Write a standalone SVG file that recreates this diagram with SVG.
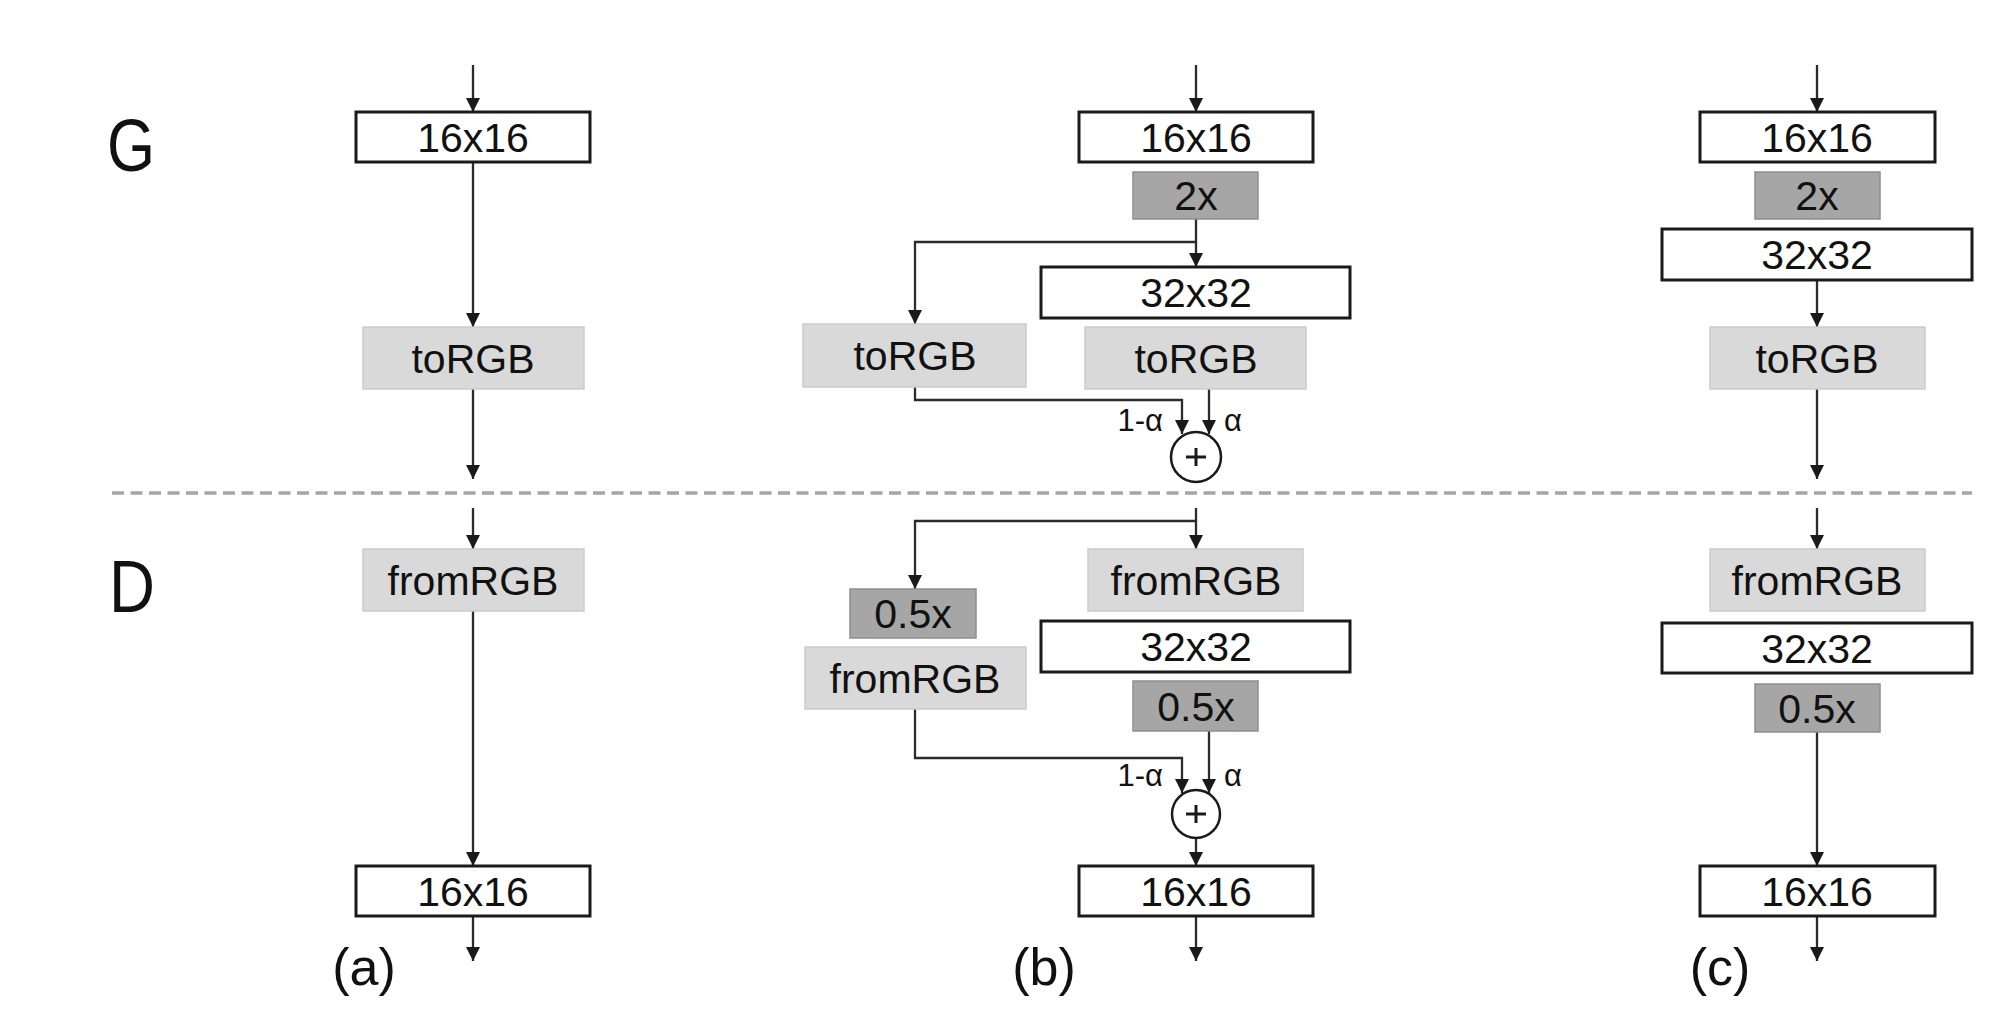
<svg xmlns="http://www.w3.org/2000/svg" width="2000" height="1029" viewBox="0 0 2000 1029">
<style>
.bg{fill:#ffffff}
.res{fill:#ffffff;stroke:#1a1a1a;stroke-width:3}
.rgb{fill:#d9d9d9;stroke:#cbcbcb;stroke-width:1.5}
.scl{fill:#a6a6a6;stroke:#8e8e8e;stroke-width:1.5}
.lbl{font-family:"Liberation Sans",Arial,sans-serif;font-size:41px;fill:#111;text-anchor:middle}
.big{font-family:"Liberation Sans",Arial,sans-serif;font-size:74px;fill:#111;text-anchor:middle}
.cap{font-family:"Liberation Sans",Arial,sans-serif;font-size:52px;fill:#111;text-anchor:middle}
.wt{font-family:"Liberation Sans",Arial,sans-serif;font-size:31px;fill:#111}
.ln{fill:none;stroke:#2b2b2b;stroke-width:2.3}
.sum{fill:#ffffff;stroke:#1a1a1a;stroke-width:2.5}
.plus{stroke:#1a1a1a;stroke-width:3}
</style>
<defs>
<marker id="ah" viewBox="0 0 14 14" refX="14" refY="7" markerWidth="14" markerHeight="14" markerUnits="userSpaceOnUse" orient="auto">
<path d="M0,0 L14,7 L0,14 z" fill="#1a1a1a"/>
</marker>
</defs>
<rect class="bg" x="0" y="0" width="2000" height="1029"/>

<g id="labels">
<text class="big" x="131" y="171" textLength="48" lengthAdjust="spacingAndGlyphs">G</text>
<text class="big" x="132" y="612" textLength="46" lengthAdjust="spacingAndGlyphs">D</text>
<text class="cap" x="364" y="985">(a)</text>
<text class="cap" x="1044" y="985">(b)</text>
<text class="cap" x="1720" y="985">(c)</text>
</g>

<g id="divider">
<line x1="112" y1="493" x2="1972" y2="493" stroke="#a6a6a6" stroke-width="3.5" stroke-dasharray="12 6.5"/>
</g>

<g id="connectors">
<!-- (a) -->
<path class="ln" d="M473,65 V112" marker-end="url(#ah)"/>
<path class="ln" d="M473,162 V327" marker-end="url(#ah)"/>
<path class="ln" d="M473,389 V479" marker-end="url(#ah)"/>
<path class="ln" d="M473,508 V549" marker-end="url(#ah)"/>
<path class="ln" d="M473,611 V866" marker-end="url(#ah)"/>
<path class="ln" d="M473,916 V961" marker-end="url(#ah)"/>
<!-- (b) G -->
<path class="ln" d="M1196,65 V112" marker-end="url(#ah)"/>
<path class="ln" d="M1196,219 V267" marker-end="url(#ah)"/>
<path class="ln" d="M1196,242 H915 V324" marker-end="url(#ah)"/>
<path class="ln" d="M915,387 V400 H1182 V434" marker-end="url(#ah)"/>
<path class="ln" d="M1209,389 V434" marker-end="url(#ah)"/>
<!-- (b) D -->
<path class="ln" d="M1196,508 V549" marker-end="url(#ah)"/>
<path class="ln" d="M1196,521 H915 V589" marker-end="url(#ah)"/>
<path class="ln" d="M915,709 V758 H1182 V793" marker-end="url(#ah)"/>
<path class="ln" d="M1209,731 V793" marker-end="url(#ah)"/>
<path class="ln" d="M1196,838 V866" marker-end="url(#ah)"/>
<path class="ln" d="M1196,916 V961" marker-end="url(#ah)"/>
<!-- (c) -->
<path class="ln" d="M1817,65 V112" marker-end="url(#ah)"/>
<path class="ln" d="M1817,280 V327" marker-end="url(#ah)"/>
<path class="ln" d="M1817,389 V479" marker-end="url(#ah)"/>
<path class="ln" d="M1817,508 V549" marker-end="url(#ah)"/>
<path class="ln" d="M1817,732 V866" marker-end="url(#ah)"/>
<path class="ln" d="M1817,916 V961" marker-end="url(#ah)"/>
</g>

<g id="weights">
<text class="wt" x="1163" y="431" text-anchor="end">1-α</text>
<text class="wt" x="1224" y="431">α</text>
<text class="wt" x="1163" y="786" text-anchor="end">1-α</text>
<text class="wt" x="1224" y="786">α</text>
</g>

<!-- column (a) -->
<g id="a-g-16"><rect class="res" x="356" y="112" width="234" height="50"/><text class="lbl" x="473" y="152">16x16</text></g>
<g id="a-g-torgb"><rect class="rgb" x="363" y="327" width="221" height="62"/><text class="lbl" x="473" y="373">toRGB</text></g>
<g id="a-d-fromrgb"><rect class="rgb" x="363" y="549" width="221" height="62"/><text class="lbl" x="473" y="595">fromRGB</text></g>
<g id="a-d-16"><rect class="res" x="356" y="866" width="234" height="50"/><text class="lbl" x="473" y="906">16x16</text></g>

<!-- column (b) -->
<g id="b-g-16"><rect class="res" x="1079" y="112" width="234" height="50"/><text class="lbl" x="1196" y="152">16x16</text></g>
<g id="b-g-2x"><rect class="scl" x="1133" y="172" width="125" height="47"/><text class="lbl" x="1196" y="210">2x</text></g>
<g id="b-g-32"><rect class="res" x="1041" y="267" width="309" height="51"/><text class="lbl" x="1196" y="307">32x32</text></g>
<g id="b-g-torgb-l"><rect class="rgb" x="803" y="324" width="223" height="63"/><text class="lbl" x="915" y="370">toRGB</text></g>
<g id="b-g-torgb-r"><rect class="rgb" x="1085" y="327" width="221" height="62"/><text class="lbl" x="1196" y="373">toRGB</text></g>
<g id="b-g-sum"><circle class="sum" cx="1196" cy="457" r="25"/><line class="plus" x1="1186" y1="457" x2="1206" y2="457"/><line class="plus" x1="1196" y1="448" x2="1196" y2="466"/></g>
<g id="b-d-fromrgb-r"><rect class="rgb" x="1088" y="549" width="215" height="62"/><text class="lbl" x="1196" y="595">fromRGB</text></g>
<g id="b-d-32"><rect class="res" x="1041" y="621" width="309" height="51"/><text class="lbl" x="1196" y="661">32x32</text></g>
<g id="b-d-half-r"><rect class="scl" x="1133" y="681" width="125" height="50"/><text class="lbl" x="1196" y="721">0.5x</text></g>
<g id="b-d-half-l"><rect class="scl" x="850" y="589" width="126" height="49"/><text class="lbl" x="913" y="628">0.5x</text></g>
<g id="b-d-fromrgb-l"><rect class="rgb" x="805" y="647" width="221" height="62"/><text class="lbl" x="915" y="693">fromRGB</text></g>
<g id="b-d-sum"><circle class="sum" cx="1196" cy="814" r="24"/><line class="plus" x1="1186" y1="814" x2="1206" y2="814"/><line class="plus" x1="1196" y1="805" x2="1196" y2="823"/></g>
<g id="b-d-16"><rect class="res" x="1079" y="866" width="234" height="50"/><text class="lbl" x="1196" y="906">16x16</text></g>

<!-- column (c) -->
<g id="c-g-16"><rect class="res" x="1700" y="112" width="235" height="50"/><text class="lbl" x="1817" y="152">16x16</text></g>
<g id="c-g-2x"><rect class="scl" x="1755" y="172" width="125" height="47"/><text class="lbl" x="1817" y="210">2x</text></g>
<g id="c-g-32"><rect class="res" x="1662" y="229" width="310" height="51"/><text class="lbl" x="1817" y="269">32x32</text></g>
<g id="c-g-torgb"><rect class="rgb" x="1710" y="327" width="215" height="62"/><text class="lbl" x="1817" y="373">toRGB</text></g>
<g id="c-d-fromrgb"><rect class="rgb" x="1710" y="549" width="215" height="62"/><text class="lbl" x="1817" y="595">fromRGB</text></g>
<g id="c-d-32"><rect class="res" x="1662" y="623" width="310" height="50"/><text class="lbl" x="1817" y="663">32x32</text></g>
<g id="c-d-half"><rect class="scl" x="1755" y="684" width="125" height="48"/><text class="lbl" x="1817" y="723">0.5x</text></g>
<g id="c-d-16"><rect class="res" x="1700" y="866" width="235" height="50"/><text class="lbl" x="1817" y="906">16x16</text></g>
</svg>
